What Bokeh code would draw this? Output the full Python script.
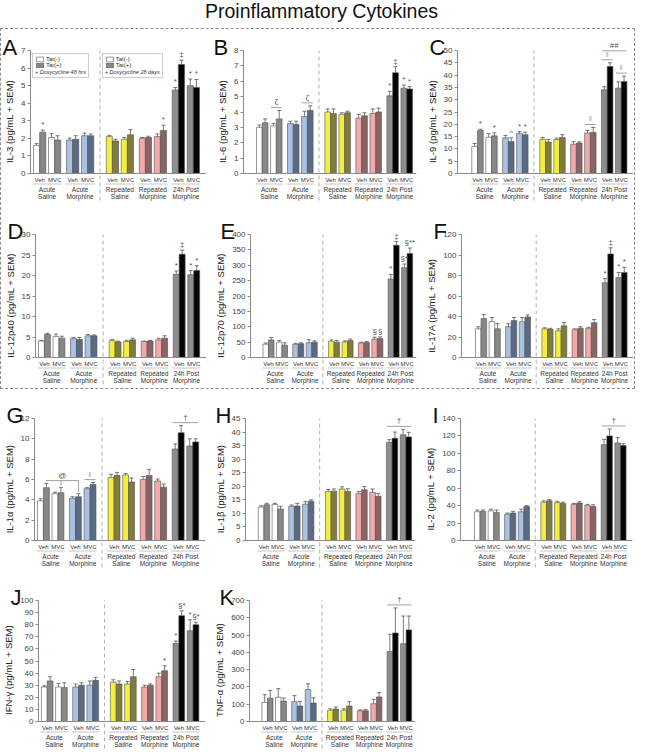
from bokeh.plotting import figure
from bokeh.models import (Range1d, ColumnDataSource, Span, LabelSet, Legend, LegendItem, Title,
                          SingleIntervalTicker, Whisker, TeeHead, Div)
from bokeh.layouts import column, row
from bokeh.embed import file_html
from bokeh.resources import INLINE
from bokeh.core.properties import value

FONT = "Liberation Sans"

# ---------------- data ----------------
groups = ["Acute Saline", "Acute Morphine", "Repeated Saline", "Repeated Morphine", "24h Post Morphine"]
group_line1 = ["Acute", "Acute", "Repeated", "Repeated", "24h Post"]
group_line2 = ["Saline", "Morphine", "Saline", "Morphine", "Morphine"]
drugs = ["Veh", "MVC"]
tat = ["Tat(-)", "Tat(+)"]
legend_notes = ["+ Doxycycline 48 hrs", "+ Doxycycline 28 days"]

tat_neg_colors = ["#ffffff", "#a9c2e3", "#f4ee3e", "#f2a9a9", "#8e8e8e"]
tat_pos_colors = ["#878787", "#5b6a84", "#817c3b", "#8a6464", "#050505"]

# order inside each group: Veh Tat(-), Veh Tat(+), MVC Tat(-), MVC Tat(+)
il3_mean = [1.6, 2.35, 2.05, 1.9, 1.9, 1.95, 2.15, 2.15, 2.1, 1.85, 1.95, 2.2, 2.0, 2.05, 2.1, 2.45, 4.75, 6.2, 5.0, 4.9]
il3_sem = [0.1, 0.12, 0.22, 0.25, 0.12, 0.2, 0.15, 0.1, 0.07, 0.1, 0.1, 0.3, 0.05, 0.07, 0.15, 0.3, 0.15, 0.25, 0.38, 0.45]
il6_mean = [3.0, 3.3, 3.1, 3.55, 3.25, 3.2, 3.7, 4.1, 4.0, 3.9, 3.85, 3.95, 3.6, 3.75, 3.9, 4.0, 5.05, 6.55, 5.55, 5.5]
il6_sem = [0.15, 0.25, 0.15, 0.55, 0.15, 0.2, 0.35, 0.3, 0.2, 0.3, 0.1, 0.1, 0.25, 0.2, 0.3, 0.25, 0.3, 0.4, 0.2, 0.15]
il9_mean = [11.0, 17.5, 14.7, 15.3, 14.5, 13.0, 16.3, 15.8, 13.8, 12.8, 13.8, 14.6, 11.9, 12.4, 16.5, 16.7, 34.0, 43.5, 34.7, 37.4]
il9_sem = [1.2, 0.5, 1.5, 1.2, 1.0, 1.5, 0.7, 1.0, 0.8, 1.0, 0.6, 1.2, 1.0, 0.5, 1.0, 2.0, 1.3, 1.5, 2.5, 2.2]
il12p40_mean = [4.0, 5.6, 5.1, 4.7, 4.6, 4.4, 5.3, 5.3, 4.1, 3.8, 3.9, 4.3, 3.9, 4.0, 4.3, 4.7, 20.3, 25.2, 20.2, 21.2]
il12p40_sem = [0.2, 0.3, 0.6, 0.5, 0.3, 0.5, 0.3, 0.2, 0.3, 0.2, 0.3, 0.4, 0.1, 0.2, 0.4, 0.6, 0.8, 1.0, 1.0, 1.2]
il12p70_mean = [43, 57, 50, 40, 43, 45, 48, 50, 53, 50, 50, 55, 47, 49, 60, 62, 255, 365, 292, 338]
il12p70_sem = [4, 8, 5, 8, 3, 3, 10, 4, 4, 5, 4, 5, 3, 3, 6, 5, 15, 12, 12, 18]
il17a_mean = [28, 38, 35, 28, 30, 36, 35, 39.5, 28, 27.5, 26, 31, 27, 28.5, 28.5, 34, 73, 101, 78, 83]
il17a_sem = [2, 4, 4, 5, 3, 3, 4, 2, 1, 1, 2, 3, 1, 1.5, 1, 3, 4, 6, 5, 5]
il1a_mean = [3.9, 5.2, 4.6, 4.7, 4.15, 4.3, 5.1, 5.5, 6.2, 6.4, 6.45, 5.75, 6.0, 6.4, 5.85, 5.25, 9.0, 10.6, 9.3, 9.7]
il1a_sem = [0.2, 0.4, 0.15, 0.5, 0.15, 0.3, 0.1, 0.2, 0.3, 0.3, 0.15, 0.4, 0.3, 0.6, 0.2, 0.3, 0.5, 0.7, 0.7, 0.3]
il1b_mean = [12.3, 13.2, 13.3, 11.6, 12.6, 12.7, 13.4, 14.5, 18.1, 18.2, 19.0, 18.1, 17.3, 18.7, 17.8, 16.3, 36.2, 37.7, 39.0, 38.2]
il1b_sem = [0.5, 0.5, 0.4, 1.0, 0.5, 1.0, 1.0, 0.5, 0.7, 0.8, 0.8, 1.0, 0.8, 1.2, 1.2, 1.0, 1.0, 2.3, 2.0, 1.7]
il2_mean = [33, 33.5, 34, 32, 30, 31.5, 33, 39, 44, 45.5, 43.5, 42.5, 41.5, 43, 40.5, 39, 110, 120, 112, 109]
il2_sem = [2, 1.5, 2, 3, 1.5, 2, 3, 1, 1.5, 1.5, 1.5, 1.5, 1, 1.5, 1, 2, 6, 8, 6, 2]
ifng_mean = [28.5, 33.5, 28.5, 28, 28.5, 30, 30, 34, 32.5, 31, 31, 37, 28.5, 30, 37, 42, 64.5, 87.5, 75, 80]
ifng_sem = [1, 3.5, 3, 4, 2.5, 2, 3.5, 2.5, 2, 2.5, 2, 6, 1.5, 1, 3, 4, 2, 4, 9, 2]
tnfa_mean = [110, 135, 140, 118, 115, 90, 185, 107, 65, 72, 65, 90, 62, 62, 103, 142, 405, 512, 450, 530]
tnfa_sem = [45, 45, 50, 18, 35, 25, 33, 30, 8, 12, 8, 25, 5, 8, 25, 25, 100, 145, 160, 80]

# significance marks: (bar index, symbol); brackets: (bar indices, symbol, drop lines, level)
il3_marks = [(1, "*"), (15, "*"), (16, "*"), (17, "‡"), (18, "*"), (19, "*")]
il6_marks = [(16, "*"), (17, "‡"), (18, "*"), (19, "*")]
il6_brackets = [([2, 3], "ζ", False, 0), ([6, 7], "ζ", False, 0)]
il9_marks = [(1, "*"), (3, "*"), (5, "^"), (6, "*"), (7, "*")]
il9_brackets = [([14, 15], "‖", False, 0), ([16, 17], "‖", False, 0), ([18, 19], "‖", False, 0),
                ([16, 17, 18, 19], "##", False, 1)]
il12p40_marks = [(16, "*"), (17, "‡"), (18, "*"), (19, "*")]
il12p70_marks = [(14, "§"), (15, "§"), (16, "*"), (17, "‡"), (18, "§*"), (19, "§**")]
il17a_marks = [(16, "*"), (17, "‡"), (18, "*"), (19, "*")]
il1a_brackets = [([1, 3, 5], "@", True, 0), ([6, 7], "‖", False, 0), ([16, 17, 18, 19], "†", False, 0)]
il1b_brackets = [([16, 17, 18, 19], "†", False, 0)]
il2_brackets = [([16, 17, 18, 19], "†", False, 0)]
ifng_marks = [(15, "*"), (16, "*"), (17, "§*"), (18, "*"), (19, "§*")]
tnfa_brackets = [([16, 17, 18, 19], "†", False, 0)]

# ---------------- layout constants ----------------
pair_gap, group_gap, half_gap = 0.45, 0.95, 1.1
group_w = 4 + pair_gap
group_start = [g * (group_w + group_gap) + (half_gap if g >= 2 else 0) for g in range(len(groups))]
n_bars = 4 * len(groups)
bar_x = [group_start[k // 4] + ((k // 2) % 2) * (2 + pair_gap) + (k % 2) + 0.5 for k in range(n_bars)]
bar_color = [tat_neg_colors[k // 4] if k % 2 == 0 else tat_pos_colors[k // 4] for k in range(n_bars)]
x_sep = (group_start[1] + group_w + group_start[2]) / 2

FIG_W = 211
TOP_PAD = 10
COLS = [dict(xr=(-0.5, 28.3), bl=29, br=6),
        dict(xr=(-2.26, 27.85), bl=31, br=7),
        dict(xr=(-2.5, 28.3), bl=29, br=1)]
ROWS = [dict(h=180, top=21, plot=123, lab=29, bot=7),
        dict(h=179, top=25, plot=123, lab=29, bot=2),
        dict(h=180, top=29, plot=122, lab=29, bot=0),
        dict(h=180, top=31, plot=121, lab=28, bot=0)]


def make_panel(letter, ylabel, mean, sem, ymax, step, marks, brackets, col, rw, legend=False):
    c, r = COLS[col], ROWS[rw]
    ppu = r["plot"] / ymax
    x0, x1 = c["xr"]
    ppx = (FIG_W - c["bl"] - c["br"]) / (x1 - x0)
    ttl = Title(text=letter, align="left", offset=-(c["bl"] - 1), standoff=-38, text_font=FONT,
                text_font_size="22px", text_font_style="normal", text_color="#111111")
    p = figure(width=FIG_W, height=r["h"], x_range=Range1d(x0, x1),
               y_range=Range1d(-r["lab"] / ppu, ymax + TOP_PAD / ppu), x_axis_location=None, title=ttl,
               toolbar_location=None, output_backend="svg",
               min_border_left=c["bl"], min_border_right=c["br"],
               min_border_top=r["top"] - TOP_PAD, min_border_bottom=r["bot"])
    p.grid.visible = False
    p.outline_line_color = None
    ax = p.yaxis[0]
    ax.bounds = (0, ymax)
    ax.ticker = SingleIntervalTicker(interval=step, num_minor_ticks=0)
    ax.axis_label = ylabel
    ax.axis_label_text_font = FONT
    ax.axis_label_text_font_size = "9.5px"
    ax.axis_label_text_font_style = "normal"
    ax.axis_label_text_color = "#222222"
    ax.axis_label_standoff = 3
    ax.major_label_text_font = FONT
    ax.major_label_text_font_size = "8px"
    ax.major_label_text_color = "#444444"
    ax.major_label_standoff = 2
    ax.axis_line_color = "#8a8a8a"
    ax.major_tick_line_color = "#8a8a8a"
    ax.major_tick_out = 3
    ax.major_tick_in = 0
    ax.minor_tick_line_color = None

    # x baseline and dashed separator
    p.add_layout(Span(location=0, dimension="width", line_color="#8a8a8a", line_width=1))
    p.segment(x0=[x_sep], y0=[-27 / ppu], x1=[x_sep], y1=[ymax], line_color="#b0b0b0",
              line_width=1, line_dash="4 3")

    src = ColumnDataSource(dict(x=bar_x, top=mean, hi=[m + s for m, s in zip(mean, sem)], color=bar_color))
    bars = p.vbar(x="x", top="top", bottom=0, width=1.0, fill_color="color", line_color="#505050",
                  line_width=0.6, source=src)
    p.add_layout(Whisker(source=src, base="x", lower="top", upper="hi", line_color="#555555",
                         line_width=0.8, lower_head=None,
                         upper_head=TeeHead(size=4, line_color="#555555", line_width=0.8)))

    # significance marks
    if marks:
        ms = ColumnDataSource(dict(x=[bar_x[i] for i, _ in marks],
                                   y=[mean[i] + sem[i] + 1.0 / ppu for i, _ in marks],
                                   t=[s for _, s in marks]))
        p.add_layout(LabelSet(x="x", y="y", text="t", source=ms, text_align="center",
                              text_baseline="bottom", text_font=value(FONT), text_font_size="8px",
                              text_color="#555555"))
    bx, by, bt, bc = [], [], [], []
    for idx, sym, drop, level in brackets:
        tops = [mean[i] + sem[i] for i in idx]
        yl = max(tops) + (3 + 9 * level) / ppu
        if drop:
            xa, xb = bar_x[idx[0]], bar_x[idx[-1]]
            for i, t in zip(idx, tops):
                p.segment(x0=[bar_x[i]], y0=[yl], x1=[bar_x[i]], y1=[t + 2 / ppu], line_color="#8a8a8a",
                          line_width=0.8)
        else:
            xa, xb = bar_x[idx[0]] - 0.45, bar_x[idx[-1]] + 0.45
        p.segment(x0=[xa], y0=[yl], x1=[xb], y1=[yl], line_color="#8a8a8a", line_width=0.8)
        bx.append((xa + xb) / 2)
        by.append(yl + 1 / ppu)
        bt.append(sym)
        bc.append("#aaaaaa" if sym == "‖" else "#555555")
    if bt:
        p.add_layout(LabelSet(x="x", y="y", text="t", source=ColumnDataSource(dict(x=bx, y=by, t=bt, c=bc)),
                              text_align="center", text_baseline="bottom", text_font=value(FONT),
                              text_font_size="8px", text_color="c"))

    # category labels
    sub = ColumnDataSource(dict(x=[gs + (1 if d == 0 else 3 + pair_gap) for gs in group_start for d in range(2)],
                                y=[-6 / ppu] * (2 * len(groups)),
                                t=[drugs[d] for _ in group_start for d in range(2)]))
    p.add_layout(LabelSet(x="x", y="y", text="t", source=sub, text_align="center", text_baseline="middle",
                          text_font=value(FONT), text_font_size="6px", text_color="#333333"))
    p.segment(x0=[gs - 0.15 for gs in group_start], x1=[gs + group_w + 0.15 for gs in group_start],
              y0=[-10.5 / ppu] * len(groups), y1=[-10.5 / ppu] * len(groups),
              line_color="#a0a0a0", line_width=0.6)
    gx = [gs + group_w / 2 for gs in group_start]
    for lines, off in ((group_line1, 15.5), (group_line2, 23)):
        gsrc = ColumnDataSource(dict(x=gx, y=[-off / ppu] * len(groups), t=lines))
        p.add_layout(LabelSet(x="x", y="y", text="t", source=gsrc, text_align="center",
                              text_baseline="middle", text_font=value(FONT), text_font_size="6.5px",
                              text_color="#333333"))

    if legend:
        blank = p.vbar(x=[], top=[], width=1, fill_alpha=0, line_alpha=0)
        has_tl = "title_location" in Legend.properties()
        for note, xpx in zip(legend_notes, [2, (group_start[2] - x0) * ppx - 4]):
            items = [LegendItem(label=tat[0], renderers=[bars], index=0),
                     LegendItem(label=tat[1], renderers=[bars], index=1)]
            if not has_tl:
                items.append(LegendItem(label=note, renderers=[blank]))
            leg = Legend(items=items, location=(xpx, r["lab"] + r["plot"] - 2 - 26), label_text_font=FONT,
                         label_text_font_size="6px", label_text_color="#333333", glyph_width=9,
                         glyph_height=6, label_height=6, label_standoff=2, spacing=0, padding=2,
                         margin=0, border_line_color="#999999", border_line_width=0.7,
                         background_fill_color="#ffffff", background_fill_alpha=1)
            if has_tl:
                leg.title = note
                leg.title_location = "below"
                leg.title_text_font = FONT
                leg.title_text_font_size = "5.5px"
                leg.title_text_font_style = "italic"
                leg.title_text_color = "#333333"
                leg.title_standoff = 1
            p.add_layout(leg)
    return p


A = make_panel("A", "IL-3 (pg/mL + SEM)", il3_mean, il3_sem, 7, 1, il3_marks, [], 0, 0, legend=True)
B = make_panel("B", "IL-6 (pg/mL + SEM)", il6_mean, il6_sem, 8, 1, il6_marks, il6_brackets, 1, 0)
C = make_panel("C", "IL-9 (pg/mL + SEM)", il9_mean, il9_sem, 50, 5, il9_marks, il9_brackets, 2, 0)
D = make_panel("D", "IL-12p40 (pg/mL + SEM)", il12p40_mean, il12p40_sem, 30, 5, il12p40_marks, [], 0, 1)
E = make_panel("E", "IL-12p70 (pg/mL + SEM)", il12p70_mean, il12p70_sem, 400, 50, il12p70_marks, [], 1, 1)
F = make_panel("F", "IL-17A (pg/mL + SEM)", il17a_mean, il17a_sem, 120, 20, il17a_marks, [], 2, 1)
G = make_panel("G", "IL-1α (pg/mL + SEM)", il1a_mean, il1a_sem, 12, 2, [], il1a_brackets, 0, 2)
H = make_panel("H", "IL-1β (pg/mL + SEM)", il1b_mean, il1b_sem, 45, 5, [], il1b_brackets, 1, 2)
I = make_panel("I", "IL-2 (pg/mL + SEM)", il2_mean, il2_sem, 140, 20, [], il2_brackets, 2, 2)
J = make_panel("J", "IFN-γ (pg/mL + SEM)", ifng_mean, ifng_sem, 100, 10, ifng_marks, [], 0, 3)
K = make_panel("K", "TNF-α (pg/mL + SEM)", tnfa_mean, tnfa_sem, 700, 100, [], tnfa_brackets, 1, 3)

title = Div(text=('<div style="width:633px;text-align:center;font-family:\'Liberation Sans\';'
                  'font-size:19.5px;line-height:18px;position:relative;top:-3px;color:#111111">'
                  'Proinflammatory Cytokines</div>'), width=633, height=18)
box = column(row(A, B, C), row(D, E, F), styles={"border": "1px dashed #8c8c8c"})
root = column(title, box, row(G, H, I), row(J, K))

open("out.html", "w").write(file_html(root, INLINE, title="Proinflammatory Cytokines"))
